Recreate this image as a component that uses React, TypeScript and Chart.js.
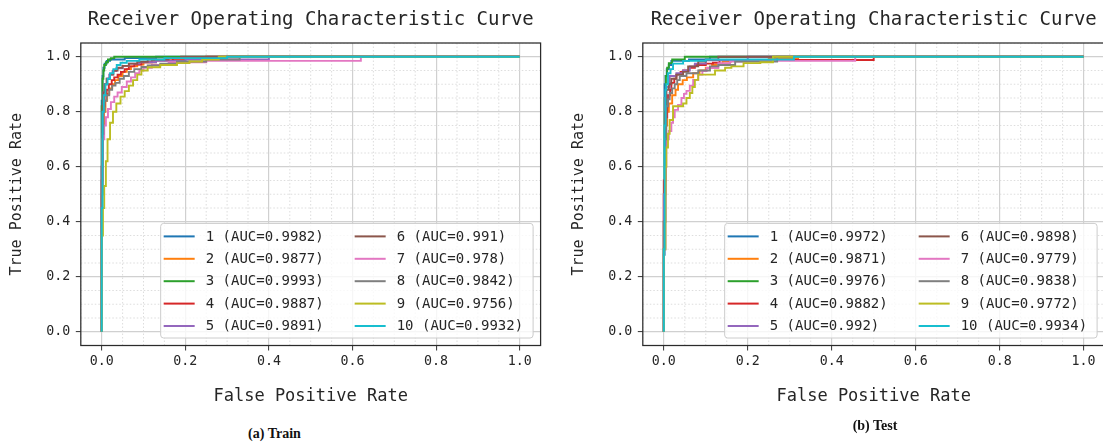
import React, { useEffect, useRef } from "react";
import { Chart, registerables } from "chart.js";

Chart.register(...registerables);

// ---------- data ----------
const classNames = ["1", "2", "3", "4", "5", "6", "7", "8", "9", "10"];
const trainAuc = ["0.9982", "0.9877", "0.9993", "0.9887", "0.9891", "0.991", "0.978", "0.9842", "0.9756", "0.9932"];
const testAuc = ["0.9972", "0.9871", "0.9976", "0.9882", "0.992", "0.9898", "0.9779", "0.9838", "0.9772", "0.9934"];
const tickValues = [0, 0.2, 0.4, 0.6, 0.8, 1.0];
const minorValues = [-0.05, 0.05, 0.1, 0.15, 0.25, 0.3, 0.35, 0.45, 0.5, 0.55, 0.65, 0.7, 0.75, 0.85, 0.9, 0.95, 1.05];
const palette = ["#1f77b4", "#ff7f0e", "#2ca02c", "#d62728", "#9467bd", "#8c564b", "#e377c2", "#7f7f7f", "#bcbd22", "#17becf"];
const chartTitle = "Receiver Operating Characteristic Curve";
const xTitle = "False Positive Rate";
const yTitle = "True Positive Rate";

// [fpr, tpr] — Train
const train1 = [[0, 0], [0, 0.84], [0.002, 0.93], [0.004, 0.96], [0.007, 0.975], [0.012, 0.985], [0.02, 0.99], [0.055, 0.995], [0.13, 1], [1, 1]];
const train2 = [[0, 0], [0, 0.5], [0.002, 0.72], [0.005, 0.8], [0.009, 0.84], [0.013, 0.865], [0.018, 0.885], [0.025, 0.9], [0.032, 0.915], [0.04, 0.93], [0.05, 0.945], [0.06, 0.955], [0.07, 0.965], [0.085, 0.972], [0.1, 0.98], [0.13, 0.987], [0.2, 0.993], [0.3, 1], [1, 1]];
const train3 = [[0, 0], [0, 0.82], [0.002, 0.92], [0.004, 0.95], [0.006, 0.97], [0.01, 0.98], [0.015, 0.99], [0.022, 0.995], [0.03, 1], [1, 1]];
const train4 = [[0, 0], [0, 0.55], [0.002, 0.75], [0.004, 0.82], [0.007, 0.86], [0.012, 0.88], [0.017, 0.9], [0.024, 0.915], [0.03, 0.925], [0.038, 0.935], [0.046, 0.945], [0.055, 0.955], [0.065, 0.965], [0.078, 0.972], [0.095, 0.98], [0.12, 0.987], [0.17, 0.993], [0.25, 1], [1, 1]];
const train5 = [[0, 0], [0, 0.6], [0.002, 0.8], [0.004, 0.87], [0.007, 0.9], [0.012, 0.92], [0.018, 0.935], [0.026, 0.948], [0.035, 0.958], [0.05, 0.967], [0.065, 0.975], [0.09, 0.98], [0.13, 0.985], [0.2, 0.99], [0.4, 1], [1, 1]];
const train6 = [[0, 0], [0, 0.6], [0.002, 0.82], [0.004, 0.87], [0.007, 0.9], [0.012, 0.92], [0.02, 0.935], [0.028, 0.95], [0.038, 0.96], [0.05, 0.967], [0.065, 0.975], [0.085, 0.982], [0.11, 0.99], [0.16, 0.995], [0.19, 1], [1, 1]];
const train7 = [[0, 0], [0, 0.5], [0.002, 0.7], [0.006, 0.75], [0.01, 0.78], [0.015, 0.81], [0.022, 0.835], [0.03, 0.855], [0.038, 0.87], [0.048, 0.89], [0.06, 0.91], [0.07, 0.925], [0.08, 0.94], [0.09, 0.95], [0.1, 0.96], [0.12, 0.97], [0.16, 0.98], [0.25, 0.985], [0.62, 1], [1, 1]];
const train8 = [[0, 0], [0, 0.5], [0.002, 0.72], [0.004, 0.8], [0.007, 0.84], [0.012, 0.86], [0.018, 0.88], [0.025, 0.895], [0.033, 0.905], [0.043, 0.92], [0.053, 0.93], [0.065, 0.945], [0.078, 0.955], [0.095, 0.963], [0.11, 0.968], [0.14, 0.975], [0.18, 0.983], [0.25, 0.99], [0.33, 1], [1, 1]];
const train9 = [[0, 0], [0, 0.35], [0.003, 0.45], [0.006, 0.53], [0.01, 0.62], [0.014, 0.7], [0.02, 0.76], [0.027, 0.8], [0.035, 0.83], [0.045, 0.855], [0.055, 0.875], [0.065, 0.895], [0.075, 0.915], [0.085, 0.935], [0.095, 0.95], [0.11, 0.962], [0.14, 0.97], [0.18, 0.977], [0.21, 0.983], [0.24, 0.99], [0.28, 1], [1, 1]];
const train10 = [[0, 0], [0, 0.45], [0.002, 0.8], [0.005, 0.86], [0.009, 0.9], [0.014, 0.92], [0.02, 0.94], [0.028, 0.955], [0.036, 0.97], [0.045, 0.978], [0.06, 0.985], [0.09, 0.99], [0.15, 0.995], [0.3, 1], [1, 1]];

// [fpr, tpr] — Test
const test1 = [[0, 0], [0, 0.28], [0.002, 0.9], [0.004, 0.93], [0.007, 0.955], [0.012, 0.97], [0.018, 0.985], [0.06, 0.99], [0.11, 1], [1, 1]];
const test2 = [[0, 0], [0, 0.5], [0.004, 0.75], [0.008, 0.8], [0.012, 0.83], [0.02, 0.86], [0.028, 0.88], [0.034, 0.9], [0.045, 0.915], [0.055, 0.925], [0.07, 0.94], [0.085, 0.95], [0.1, 0.96], [0.115, 0.97], [0.14, 0.983], [0.16, 0.987], [0.25, 0.993], [0.32, 1], [1, 1]];
const test3 = [[0, 0], [0, 0.3], [0.002, 0.85], [0.005, 0.93], [0.008, 0.96], [0.012, 0.977], [0.02, 0.99], [0.05, 1], [1, 1]];
const test4 = [[0, 0], [0, 0.55], [0.004, 0.78], [0.008, 0.82], [0.01, 0.86], [0.015, 0.88], [0.018, 0.905], [0.025, 0.92], [0.03, 0.935], [0.04, 0.945], [0.046, 0.95], [0.06, 0.96], [0.074, 0.97], [0.1, 0.975], [0.117, 0.978], [0.133, 0.988], [0.5, 1], [1, 1]];
const test5 = [[0, 0], [0, 0.5], [0.003, 0.85], [0.006, 0.89], [0.014, 0.93], [0.03, 0.94], [0.046, 0.95], [0.062, 0.965], [0.074, 0.975], [0.1, 0.987], [0.2, 1], [1, 1]];
const test6 = [[0, 0], [0, 0.4], [0.003, 0.8], [0.006, 0.88], [0.012, 0.9], [0.018, 0.92], [0.03, 0.935], [0.046, 0.945], [0.058, 0.965], [0.082, 0.983], [0.1, 0.99], [0.13, 1], [1, 1]];
const test7 = [[0, 0], [0, 0.3], [0.004, 0.6], [0.006, 0.7], [0.012, 0.73], [0.018, 0.76], [0.022, 0.78], [0.026, 0.807], [0.034, 0.825], [0.042, 0.85], [0.048, 0.865], [0.054, 0.876], [0.062, 0.895], [0.07, 0.916], [0.082, 0.935], [0.092, 0.948], [0.102, 0.959], [0.13, 0.977], [0.158, 0.983], [0.2, 0.985], [0.456, 1], [1, 1]];
const test8 = [[0, 0], [0, 0.4], [0.004, 0.7], [0.006, 0.82], [0.01, 0.845], [0.014, 0.868], [0.02, 0.885], [0.026, 0.9], [0.032, 0.915], [0.038, 0.93], [0.054, 0.94], [0.082, 0.95], [0.11, 0.965], [0.13, 0.97], [0.17, 0.983], [0.27, 1], [1, 1]];
const test9 = [[0, 0], [0, 0.3], [0.004, 0.6], [0.006, 0.67], [0.01, 0.72], [0.014, 0.77], [0.022, 0.82], [0.046, 0.83], [0.054, 0.85], [0.062, 0.868], [0.068, 0.89], [0.074, 0.916], [0.082, 0.935], [0.122, 0.95], [0.146, 0.96], [0.161, 0.965], [0.19, 0.977], [0.23, 0.98], [0.26, 1], [1, 1]];
const test10 = [[0, 0], [0, 0.3], [0.002, 0.75], [0.004, 0.88], [0.006, 0.9], [0.01, 0.94], [0.016, 0.955], [0.022, 0.975], [0.046, 0.985], [0.1, 0.99], [0.31, 1], [1, 1]];

const trainSeries = [train1, train2, train3, train4, train5, train6, train7, train8, train9, train10];
const testSeries = [test1, test2, test3, test4, test5, test6, test7, test8, test9, test10];

// ---------- styling ----------
const MONO = "'DejaVu Sans Mono', monospace";
const TEXT = "#262626";

const minorGridPlugin = {
  id: "minorGrid",
  beforeDatasetsDraw(chart: any) {
    const { ctx, chartArea, scales } = chart;
    ctx.save();
    ctx.beginPath();
    ctx.rect(chartArea.left, chartArea.top, chartArea.right - chartArea.left, chartArea.bottom - chartArea.top);
    ctx.clip();
    ctx.strokeStyle = "#d9d9d9";
    ctx.lineWidth = 0.9;
    ctx.setLineDash([1.5, 2]);
    for (const v of minorValues) {
      const x = scales.x.getPixelForValue(v);
      ctx.beginPath();
      ctx.moveTo(x, chartArea.top);
      ctx.lineTo(x, chartArea.bottom);
      ctx.stroke();
      const y = scales.y.getPixelForValue(v);
      ctx.beginPath();
      ctx.moveTo(chartArea.left, y);
      ctx.lineTo(chartArea.right, y);
      ctx.stroke();
    }
    ctx.restore();
  },
};

const legendFramePlugin = {
  id: "legendFrame",
  afterDraw(chart: any) {
    const { ctx, chartArea } = chart;
    const datasets = chart.data.datasets;
    ctx.save();
    ctx.font = `14px ${MONO}`;
    const half = Math.ceil(datasets.length / 2);
    const col1 = datasets.slice(0, half);
    const col2 = datasets.slice(half);
    const w1 = Math.max(...col1.map((d: any) => ctx.measureText(d.label).width));
    const w2 = Math.max(...col2.map((d: any) => ctx.measureText(d.label).width));
    const padL = 3, handle = 31, handleGap = 11, colGap = 31, padR = 10;
    const boxW = padL + handle + handleGap + w1 + colGap + handle + handleGap + w2 + padR;
    const rowH = 22.4;
    const boxH = 13 + (half - 1) * rowH + 12;
    const right = chartArea.right - 7.5;
    const bottom = chartArea.bottom - 7.5;
    const left = right - boxW;
    const top = bottom - boxH;
    const r = 3;
    ctx.beginPath();
    ctx.moveTo(left + r, top);
    ctx.lineTo(right - r, top);
    ctx.quadraticCurveTo(right, top, right, top + r);
    ctx.lineTo(right, bottom - r);
    ctx.quadraticCurveTo(right, bottom, right - r, bottom);
    ctx.lineTo(left + r, bottom);
    ctx.quadraticCurveTo(left, bottom, left, bottom - r);
    ctx.lineTo(left, top + r);
    ctx.quadraticCurveTo(left, top, left + r, top);
    ctx.closePath();
    ctx.fillStyle = "rgba(255,255,255,0.8)";
    ctx.fill();
    ctx.strokeStyle = "#cccccc";
    ctx.lineWidth = 1;
    ctx.stroke();
    ctx.textBaseline = "middle";
    ctx.textAlign = "left";
    const colX = [left + padL, left + padL + handle + handleGap + w1 + colGap];
    datasets.forEach((d: any, i: number) => {
      const c = i < half ? 0 : 1;
      const row = i < half ? i : i - half;
      const y = top + 13 + row * rowH;
      ctx.strokeStyle = d.borderColor;
      ctx.lineWidth = 2;
      ctx.beginPath();
      ctx.moveTo(colX[c], y);
      ctx.lineTo(colX[c] + handle, y);
      ctx.stroke();
      ctx.fillStyle = TEXT;
      ctx.fillText(d.label, colX[c] + handle + handleGap, y + 0.5);
    });
    ctx.strokeStyle = "#2b2b2b";
    ctx.lineWidth = 1.25;
    ctx.strokeRect(chartArea.left, chartArea.top, chartArea.right - chartArea.left, chartArea.bottom - chartArea.top);
    ctx.restore();
  },
};

function makeConfig(series: number[][][], auc: string[], canvasH: number, padRight: number): any {
  const datasets = series.map((pts, i) => ({
    label: `${classNames[i]} (AUC=${auc[i]})`,
    data: pts.map(([x, y]) => ({ x, y })),
    borderColor: palette[i],
    backgroundColor: palette[i],
    borderWidth: 1.9,
    pointRadius: 0,
    stepped: "before",
    fill: false,
    order: series.length - i,
  }));
  const axisCommon = (titleText: string) => ({
    type: "linear",
    min: -0.05,
    max: 1.05,
    afterBuildTicks: (s: any) => {
      s.ticks = tickValues.map((v) => ({ value: v }));
    },
    border: { display: false },
    grid: { color: "#d0d0d0", lineWidth: 1.2, tickLength: 5, tickColor: "#333333", tickWidth: 1 },
    title: { display: true, text: titleText, color: TEXT },
  });
  const xAxis: any = axisCommon(xTitle);
  xAxis.position = "bottom";
  xAxis.afterFit = (s: any) => {
    s.height = canvasH - 345.5;
  };
  xAxis.ticks = {
    callback: (v: any) => Number(v).toFixed(1),
    font: { family: MONO, size: 13.3 },
    color: TEXT,
    padding: 3.5,
    maxRotation: 0,
    autoSkip: false,
  };
  xAxis.title.font = { family: MONO, size: 17 };
  xAxis.title.padding = { top: 0, bottom: 12.8 };
  const yAxis: any = axisCommon(yTitle);
  yAxis.position = "left";
  yAxis.afterFit = (s: any) => {
    s.width = 80.8;
  };
  yAxis.ticks = {
    callback: (v: any) => Number(v).toFixed(1),
    font: { family: MONO, size: 13.3 },
    color: TEXT,
    padding: 5.5,
    autoSkip: false,
  };
  yAxis.title.font = { family: MONO, size: 15 };
  yAxis.title.padding = { top: 8.5, bottom: 0 };
  return {
    type: "line",
    data: { datasets },
    options: {
      responsive: false,
      animation: false,
      devicePixelRatio: 1,
      layout: { padding: { left: 0, right: padRight, top: 0, bottom: 0 } },
      scales: { x: xAxis, y: yAxis },
      plugins: {
        legend: { display: false },
        tooltip: { enabled: false },
        title: {
          display: true,
          text: chartTitle,
          fullSize: false,
          color: TEXT,
          font: { family: MONO, size: 19, weight: "normal" },
          padding: { top: 8.6, bottom: 11.6 },
        },
      },
    },
    plugins: [minorGridPlugin, legendFramePlugin],
  };
}

function RocChart(props: { series: number[][][]; auc: string[]; left: number; width: number; height: number }) {
  const ref = useRef<HTMLCanvasElement | null>(null);
  useEffect(() => {
    if (!ref.current) return;
    const chart = new Chart(ref.current, makeConfig(props.series, props.auc, props.height, 14.4));
    return () => chart.destroy();
  }, []);
  return (
    <canvas
      ref={ref}
      width={props.width}
      height={props.height}
      style={{ position: "absolute", left: props.left, top: 0, width: props.width, height: props.height }}
    />
  );
}

export default function App() {
  const captionStyle: any = {
    position: "absolute",
    fontFamily: "'Liberation Serif', 'Times New Roman', serif",
    fontWeight: "bold",
    fontSize: 14,
    lineHeight: "16px",
    textAlign: "center",
    color: "#111",
  };
  return (
    <div style={{ position: "absolute", left: 0, top: 0, width: 1103, height: 446, overflow: "hidden", background: "#ffffff" }}>
      <RocChart series={trainSeries} auc={trainAuc} left={0} width={555} height={420} />
      <RocChart series={testSeries} auc={testAuc} left={562} width={557} height={420} />
      <div style={{ ...captionStyle, left: 174.5, width: 200, top: 426 }}>(a) Train</div>
      <div style={{ ...captionStyle, left: 775, width: 200, top: 418 }}>(b) Test</div>
    </div>
  );
}
